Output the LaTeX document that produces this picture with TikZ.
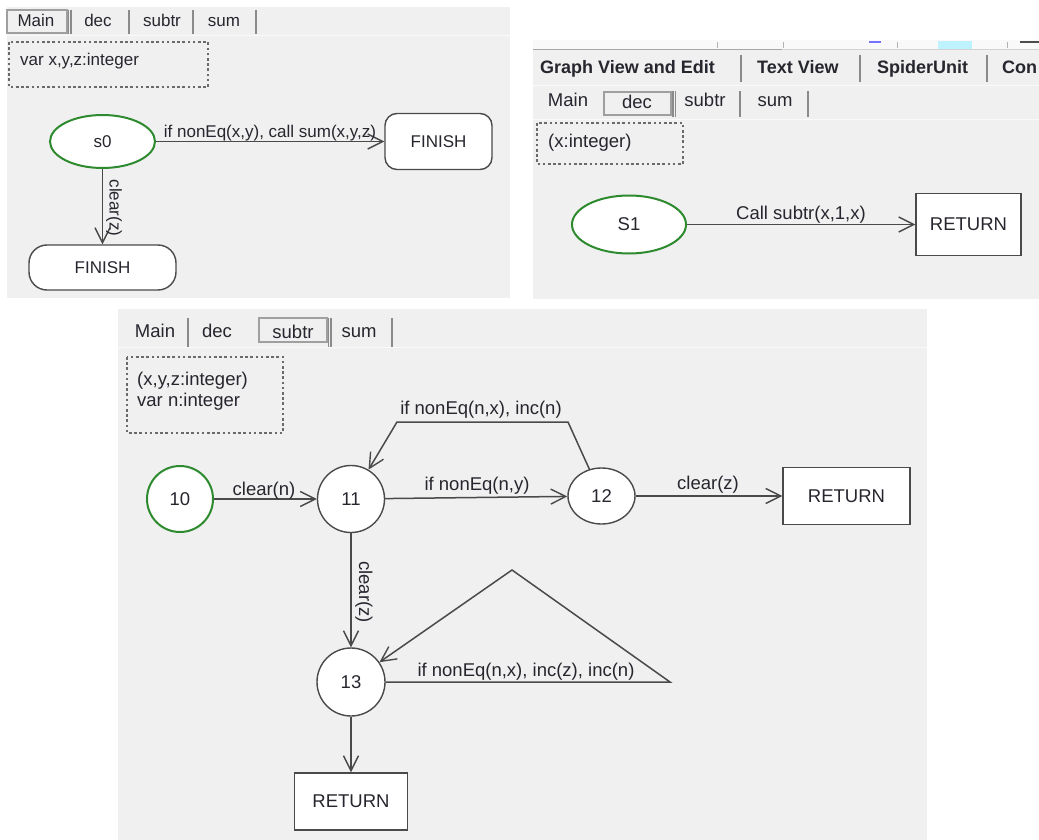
\documentclass[tikz,border=0pt]{standalone}
\usepackage{fontspec}
\setmainfont{Liberation Sans}
\usetikzlibrary{shapes.geometric,arrows.meta}

\definecolor{panelbg}{HTML}{F0F0F0}
\definecolor{edgecol}{HTML}{4A4A4A}
\definecolor{startgreen}{HTML}{2E8A2E}
\definecolor{txt}{HTML}{26262E}
\definecolor{sepdark}{HTML}{8A8A8A}
\definecolor{boxgray}{HTML}{6A6A6A}

\tikzset{
  fsA/.style={font=\fontsize{17}{20}\selectfont},
  fsB/.style={font=\fontsize{18.5}{22}\selectfont},
  fsTop/.style={font=\fontsize{18}{22}\selectfont\bfseries},
  state/.style={draw=edgecol, line width=1.4pt, fill=white, text=txt, inner sep=0pt},
  start/.style={state, draw=startgreen, line width=2pt},
  trans/.style={draw=edgecol, line width=1.5pt,
    -{Straight Barb[length=15pt,width=15pt,line width=1.4pt]}},
  lbl/.style={text=txt, inner sep=0pt},
  varbox/.style={draw=boxgray, line width=1.3pt, dash pattern=on 2.6pt off 2.6pt},
  tabsep/.style={draw=sepdark, line width=1.3pt},
  tabon/.style={draw=gray!75, line width=1.2pt},
  barline/.style={draw=white!70!panelbg, line width=1.5pt},
}

\begin{document}
\begin{tikzpicture}[x=1pt,y=-1pt]
\useasboundingbox (0,0) rectangle (1039,840);
\fill[white] (0,0) rectangle (1039,840);

% ---------------- panel backgrounds
\fill[panelbg] (7,7) rectangle (510,298);
\fill[panelbg] (533,40) rectangle (1039,299);
\fill[panelbg] (118,309) rectangle (927,840);

% ================= Main =================
% tab bar
\draw[barline] (7,35.5) -- (510,35.5);
\draw[tabon] (7,10) rectangle (67,33);
\draw[tabsep] (68.5,10) -- (68.5,34);
\draw[tabsep] (71,10) -- (71,34);
\draw[tabsep] (129,10) -- (129,34);
\draw[tabsep] (193,10) -- (193,34);
\draw[tabsep] (256,10) -- (256,34);
\node[lbl, fsA, anchor=base] (tA1) at (36,27) {Main};
\node[lbl, fsA, anchor=base] (tA2) at (98,27) {dec};
\node[lbl, fsA, anchor=base] (tA3) at (162,27) {subtr};
\node[lbl, fsA, anchor=base] (tA4) at (224,27) {sum};

% declarations
\draw[varbox] (9,42) rectangle (208,87);
\node[lbl, fsA, anchor=base west] (varA) at (20,66) {var x,y,z:integer};

% states
\node[start, ellipse, minimum width=105, minimum height=53, fsA] (s0) at (102.5,141.5) {s0};
\node[state, rectangle, rounded corners=12, minimum width=107, minimum height=56, fsA]
  (finA1) at (438.5,141.5) {FINISH};
\node[state, rectangle, rounded corners=18, minimum width=147, minimum height=45, fsA]
  (finA2) at (102.5,267.5) {FINISH};

% transitions
\draw[trans] (s0) -- (finA1);
\draw[trans] (s0) -- (finA2);
\node[lbl, fsA, anchor=base] (labA1) at (270,137.5) {if nonEq(x,y), call sum(x,y,z)};
\node[lbl, fsA, rotate=-90] (labA2) at (114,208) {clear(z)};

% ================= dec =================
% window strip above the view tabs
\fill[white!60!panelbg] (533,40) rectangle (1039,49);
\draw[draw=gray!70, line width=1.2pt] (533,49.5) -- (782,49.5);
\draw[draw=gray!35, line width=1.2pt] (782,49.5) -- (1039,49.5);
\draw[draw=gray!60, line width=0.8pt] (717,42) -- (717,48);
\draw[draw=gray!60, line width=0.8pt] (783,42) -- (783,48);
\draw[draw=gray!60, line width=0.8pt] (897,42) -- (897,48);
\draw[draw=gray!60, line width=0.8pt] (1007,42) -- (1007,48);
\draw[draw=blue!55, line width=1.6pt] (869,42) -- (881,42);
\fill[blue!20!cyan!25] (938,41) rectangle (972,49);
\draw[draw=black!70, line width=1.2pt] (1020,42) -- (1039,42);

% view tabs
\node[lbl, fsTop, anchor=base west] (vt1) at (540,74) {Graph View and Edit};
\node[lbl, fsTop, anchor=base west] (vt2) at (757,74) {Text View};
\node[lbl, fsTop, anchor=base west] (vt3) at (877,74) {SpiderUnit};
\node[lbl, fsTop, anchor=base west] (vt4) at (1002,74) {Con};
\draw[tabsep] (741,55) -- (741,82);
\draw[tabsep] (860,55) -- (860,82);
\draw[tabsep] (987,55) -- (987,82);
\draw[barline] (533,85.5) -- (1039,85.5);

% procedure tabs
\draw[barline] (533,119.5) -- (1039,119.5);
\draw[tabon] (604,92) rectangle (671,115);
\draw[tabsep] (673,91) -- (673,117);
\draw[tabsep] (675.5,91) -- (675.5,117);
\draw[tabsep] (740,91) -- (740,117);
\draw[tabsep] (808,91) -- (808,117);
\node[lbl, fsB, anchor=base] (tB1) at (568,107) {Main};
\node[lbl, fsB, anchor=base] (tB2) at (637,109) {dec};
\node[lbl, fsB, anchor=base] (tB3) at (705,107) {subtr};
\node[lbl, fsB, anchor=base] (tB4) at (775,107) {sum};

% parameters
\draw[varbox] (537,123) rectangle (683,164);
\node[lbl, fsB, anchor=base west] (varB) at (548,148) {(x:integer)};

% states
\node[start, ellipse, minimum width=114, minimum height=58, fsB] (s1) at (629,224.5) {S1};
\node[state, rectangle, minimum width=105, minimum height=62, fsB] (retB) at (968.5,224.5) {RETURN};
\draw[trans] (s1) -- (retB);
\node[lbl, fsB, anchor=base] (labB1) at (801,219) {Call subtr(x,1,x)};

% ================= subtr =================
% procedure tabs
\draw[barline] (118,347.5) -- (927,347.5);
\draw[tabon] (259,318) rectangle (327,342);
\draw[tabsep] (188,318) -- (188,347);
\draw[tabsep] (328.5,318) -- (328.5,347);
\draw[tabsep] (331,318) -- (331,347);
\draw[tabsep] (392,318) -- (392,347);
\node[lbl, fsB, anchor=base] (tC1) at (155,337) {Main};
\node[lbl, fsB, anchor=base] (tC2) at (217,337) {dec};
\node[lbl, fsB, anchor=base] (tC3) at (293,338) {subtr};
\node[lbl, fsB, anchor=base] (tC4) at (359,337) {sum};

% parameters and local variables
\draw[varbox] (127,357) rectangle (283,433);
\node[lbl, fsB, anchor=base west] (varC1) at (137,385) {(x,y,z:integer)};
\node[lbl, fsB, anchor=base west] (varC2) at (137,406) {var n:integer};

% states
\node[start, circle, minimum size=66, fsB] (n10) at (180,499) {10};
\node[state, circle, minimum size=67, fsB] (n11) at (351,499) {11};
\node[state, ellipse, minimum width=67, minimum height=56, fsB] (n12) at (601.5,496) {12};
\node[state, rectangle, minimum width=127, minimum height=57, fsB] (retC1) at (846.5,496) {RETURN};
\node[state, circle, minimum size=68, fsB] (n13) at (351,682) {13};
\node[state, rectangle, minimum width=113, minimum height=57, fsB] (retC2) at (351,801.5) {RETURN};

% bends of the two loops
\coordinate (l1a) at (568,422);
\coordinate (l1b) at (397,422);
\coordinate (l2a) at (670,682);
\coordinate (l2b) at (512,570);

% transitions
\draw[trans] (n10) -- (n11);
\draw[trans] (n11) -- (n12);
\draw[trans] (n12) -- (retC1);
\draw[trans] (n12) -- (l1a) -- (l1b) -- (n11);
\draw[trans] (n11) -- (n13);
\draw[trans] (n13.east) -- (l2a) -- (l2b) -- (n13);
\draw[trans] (n13) -- (retC2);

\node[lbl, fsB, anchor=base] (labC1) at (264,495) {clear(n)};
\node[lbl, fsB, anchor=base] (labC2) at (477,490) {if nonEq(n,y)};
\node[lbl, fsB, anchor=base] (labC3) at (708,489) {clear(z)};
\node[lbl, fsB, anchor=base] (labC4) at (481,414) {if nonEq(n,x), inc(n)};
\node[lbl, fsB, rotate=-90] (labC5) at (364,592) {clear(z)};
\node[lbl, fsB, anchor=base] (labC6) at (526,676) {if nonEq(n,x), inc(z), inc(n)};

\end{tikzpicture}
\end{document}
